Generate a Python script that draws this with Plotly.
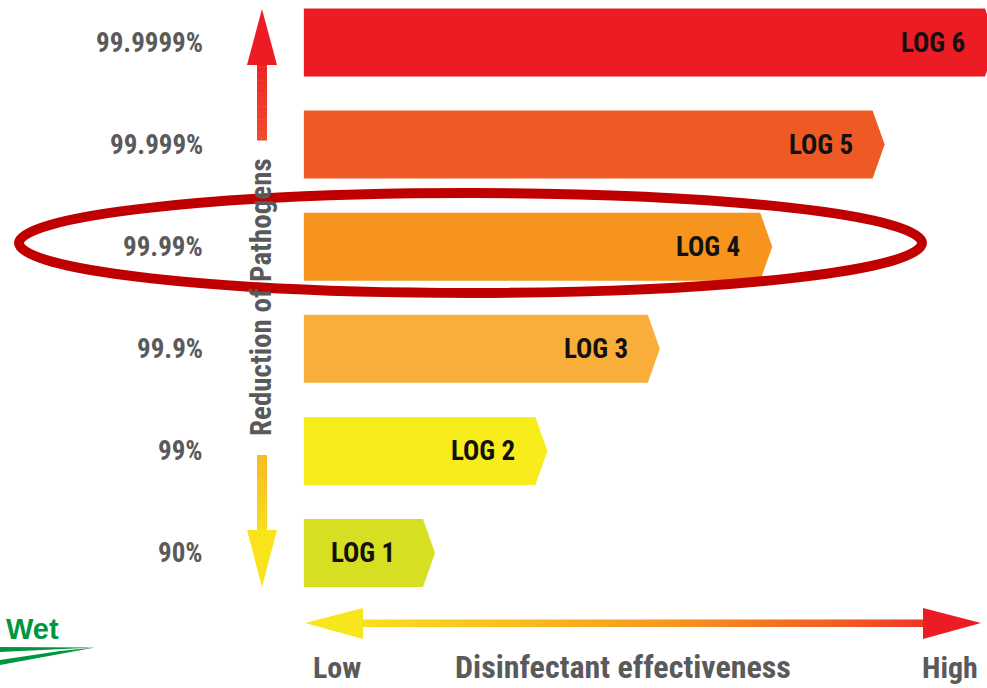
import plotly.graph_objects as go

# ---- data ----
log_levels = [1, 2, 3, 4, 5, 6]
bar_labels = ["LOG 1", "LOG 2", "LOG 3", "LOG 4", "LOG 5", "LOG 6"]
reduction_labels = ["90%", "99%", "99.9%", "99.99%", "99.999%", "99.9999%"]
bar_colors = ["#D7DF23", "#F9EC1C", "#F9AE3B", "#F7941D", "#EF5A24", "#ED1C24"]

W, H = 987, 688
COND = "Roboto Condensed, Open Sans Condensed, DejaVu Sans Condensed, sans-serif"
GREY = "#5a5a5a"

BAR_BASE = -0.06      # left edge of every bar (x units)
TIP = 0.107           # length of the arrow point (x units)
HALF_H = 0.333        # half bar thickness (y units)


def px(x):
    return x / W


def py(y):
    return 1 - y / H


def hex_to_rgb(h):
    h = h.lstrip("#")
    return tuple(int(h[i:i + 2], 16) for i in (0, 2, 4))


def lerp_color(stops, t):
    # stops: list of (position, hex)
    for (p0, c0), (p1, c1) in zip(stops, stops[1:]):
        if p0 <= t <= p1:
            f = 0 if p1 == p0 else (t - p0) / (p1 - p0)
            a, b = hex_to_rgb(c0), hex_to_rgb(c1)
            r = [round(a[i] + (b[i] - a[i]) * f) for i in range(3)]
            return "rgb(%d,%d,%d)" % tuple(r)
    return stops[-1][1]


fig = go.Figure()

# ---- arrow-shaped bars ----
for lv, lab, col in zip(log_levels, bar_labels, bar_colors):
    xs = [BAR_BASE, lv, lv + TIP, lv, BAR_BASE, BAR_BASE]
    ys = [lv - HALF_H, lv - HALF_H, lv, lv + HALF_H, lv + HALF_H, lv - HALF_H]
    fig.add_trace(go.Scatter(
        x=xs, y=ys, mode="lines", fill="toself", fillcolor=col,
        line=dict(width=0, color=col), hoverinfo="skip", showlegend=False,
    ))
    if lv - BAR_BASE < 1.5:
        ax, anchor = (BAR_BASE + lv) / 2, "center"
    else:
        ax, anchor = lv - 0.16, "right"
    fig.add_annotation(
        x=ax, y=lv, xref="x", yref="y", text="<b>%s</b>" % lab, showarrow=False,
        xanchor=anchor, yanchor="middle",
        font=dict(family=COND, size=27, color="#111111"),
    )

# ---- reduction percentages ----
for lv, txt in zip(log_levels, reduction_labels):
    fig.add_annotation(
        x=px(205), y=lv, xref="paper", yref="y", text="<b>%s</b>" % txt,
        showarrow=False, xanchor="right", yanchor="middle",
        font=dict(family=COND, size=27, color=GREY),
    )

shapes = []


def poly(points, color):
    d = "M " + " L ".join("%f,%f" % (px(x), py(y)) for x, y in points) + " Z"
    return dict(type="path", path=d, xref="paper", yref="paper",
                fillcolor=color, line=dict(width=0), layer="above")


# ---- vertical arrows (reduction direction) ----
up_stops = [(0, "#ED1C24"), (1, "#EF4D2B")]
n = 30
y0, y1 = 62, 140
for i in range(n):
    a = y0 + (y1 - y0) * i / n
    b = y0 + (y1 - y0) * (i + 1) / n + 0.5
    shapes.append(poly([(257, a), (267, a), (267, b), (257, b)],
                       lerp_color(up_stops, 0.15 + 0.85 * i / n)))
shapes.append(poly([(262, 9), (277, 65), (247, 65)], "#ED1C24"))

down_stops = [(0, "#F7BC1F"), (1, "#F9E81C")]
y0, y1 = 455, 532
for i in range(n):
    a = y0 + (y1 - y0) * i / n
    b = y0 + (y1 - y0) * (i + 1) / n + 0.5
    shapes.append(poly([(257, a), (267, a), (267, b), (257, b)],
                       lerp_color(down_stops, 0.8 * i / n)))
shapes.append(poly([(247, 530), (277, 530), (262, 587)], "#F9E41C"))

# ---- horizontal effectiveness arrow ----
h_stops = [(0, "#F9EC1C"), (0.3, "#F8BF1F"), (0.55, "#F7941D"),
           (0.8, "#F15A24"), (1, "#ED1C24")]
x0, x1 = 360, 926
m = 90
for i in range(m):
    a = x0 + (x1 - x0) * i / m
    b = x0 + (x1 - x0) * (i + 1) / m + 0.6
    t = (((a + b) / 2) - 305) / (981 - 305)
    shapes.append(poly([(a, 619.5), (b, 619.5), (b, 627), (a, 627)],
                       lerp_color(h_stops, t)))
shapes.append(poly([(305, 623), (363, 608), (363, 639)], "#F7E61C"))
shapes.append(poly([(981, 623), (923, 608), (923, 639)], "#EC1C24"))

# ---- logo swoosh ----
shapes.append(poly([(0, 647), (95, 647.5), (0, 652)], "#00963F"))
shapes.append(poly([(0, 660), (60, 651), (95, 647.5), (0, 665)], "#00963F"))

# ---- highlight ellipse around LOG 4 ----
shapes.append(dict(type="circle", xref="paper", yref="paper",
                   x0=px(19), x1=px(922), y0=py(293), y1=py(193),
                   line=dict(color="#C00000", width=10), layer="above"))

fig.update_layout(shapes=shapes)

# ---- other text ----
fig.add_annotation(
    x=px(261), y=py(297), xref="paper", yref="paper",
    text="<b>Reduction of Pathogens</b>", textangle=-90, showarrow=False,
    xanchor="center", yanchor="middle",
    font=dict(family=COND, size=29, color=GREY),
)
for txt, xc, fs in [("Low", 337, 30), ("Disinfectant effectiveness", 623, 32),
                    ("High", 950, 30)]:
    fig.add_annotation(
        x=px(xc), y=py(667), xref="paper", yref="paper", text="<b>%s</b>" % txt,
        showarrow=False, xanchor="center", yanchor="middle", borderpad=0,
        font=dict(family=COND, size=fs, color=GREY),
    )
fig.add_annotation(
    x=px(4), y=py(629), xref="paper", yref="paper", text="<b>Wet</b>",
    showarrow=False, xanchor="left", yanchor="middle",
    font=dict(family="Liberation Sans, Arial, sans-serif", size=29, color="#00963F"),
)

# pixel mapping: x_px = 310.6 + 112.4 * v ; y_px = 553 - 102.1 * (k - 1)
fig.update_layout(
    width=W, height=H,
    margin=dict(l=0, r=0, t=0, b=0),
    paper_bgcolor="white", plot_bgcolor="white",
    xaxis=dict(range=[-310.6 / 112.4, (W - 310.6) / 112.4], visible=False,
               domain=[0, 1], fixedrange=True),
    yaxis=dict(range=[1 - (H - 553) / 102.1, 1 + 553 / 102.1], visible=False,
               domain=[0, 1], fixedrange=True),
    showlegend=False,
)

fig.write_html("out.html")
